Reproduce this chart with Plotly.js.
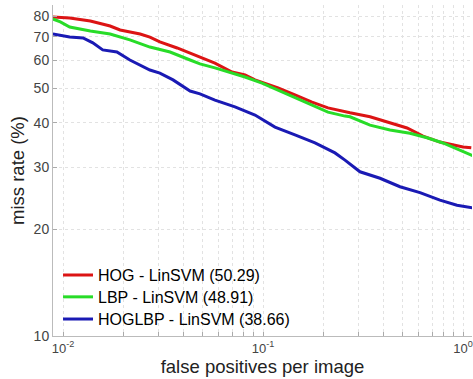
<!DOCTYPE html>
<html><head><meta charset="utf-8">
<script src="https://cdn.plot.ly/plotly-3.0.1.min.js"></script>
<style>html,body{margin:0;padding:0;background:#fff}#chart{width:473px;height:379px}</style>
</head><body><div id="chart"></div>
<script>
const seriesNames = ["HOG - LinSVM (50.29)", "LBP - LinSVM (48.91)", "HOGLBP - LinSVM (38.66)"];
const seriesColors = ["#dc1414", "#28dc28", "#1a1ab4"];

const hogX = [0.0089,0.0108,0.0137,0.0172,0.0193,0.0243,0.0272,0.0305,0.0372,0.0457,0.0575,0.070,0.0813,0.0912,0.1023,0.1189,0.1445,0.1758,0.2113,0.257,0.2723,0.3428,0.417,0.525,0.631,0.767,1.0,1.1];
const hogY = [79.6,79.1,77.6,75.1,73.2,71.3,69.9,67.7,65.1,62.2,59.0,55.7,54.6,52.9,51.8,50.2,48.0,45.8,44.1,42.9,42.7,41.6,40.2,38.7,36.7,35.3,34.2,34.0];

const lbpX = [0.0089,0.0097,0.0108,0.0137,0.0172,0.0216,0.0272,0.0343,0.0432,0.0484,0.0575,0.070,0.0813,0.0989,0.1189,0.1445,0.1758,0.2113,0.257,0.2723,0.3428,0.4315,0.543,0.661,0.794,1.0,1.12];
const lbpY = [78.6,77.1,74.6,72.7,71.3,68.6,65.5,63.4,60.2,58.7,57.2,55.3,53.9,51.8,49.5,47.3,44.9,42.9,41.8,41.6,39.4,38.2,37.4,36.3,35.1,33.3,32.3];

const hoglbpX = [0.0089,0.0108,0.0126,0.0141,0.0158,0.0186,0.0216,0.0272,0.0305,0.0355,0.0432,0.0484,0.0575,0.0724,0.0912,0.1148,0.1445,0.182,0.229,0.257,0.3055,0.3846,0.4842,0.6095,0.767,0.933,1.12];
const hoglbpY = [71.3,69.9,69.5,67.3,64.3,63.4,60.2,56.4,55.3,52.9,49.2,48.3,46.4,44.4,42.1,38.9,37.0,35.1,32.9,31.4,29.1,27.9,26.4,25.4,24.2,23.4,23.0];

const xTickVals = [0.01,0.02,0.03,0.04,0.05,0.06,0.07,0.08,0.09,0.1,0.2,0.3,0.4,0.5,0.6,0.7,0.8,0.9,1];
const xTickText = ["10<sup>-2</sup>","","","","","","","","","10<sup>-1</sup>","","","","","","","","","10<sup>0</sup>"];
const yTickVals = [10,20,30,40,50,60,70,80];
const yTickText = ["10","20","30","40","50","60","70","80"];

const xs = [hogX, lbpX, hoglbpX];
const ys = [hogY, lbpY, hoglbpY];
const legendIds = ['legend', 'legend2', 'legend3'];
const traces = seriesNames.map((n,i)=>({
  x: xs[i], y: ys[i], name: n, type: 'scatter', mode: 'lines',
  legend: legendIds[i],
  line: {color: seriesColors[i], width: 3}
}));

function leg(y) {
  return {x: 0.012, y: y, xanchor: 'left', yanchor: 'middle',
    font: {size: 16, color: '#000'}, bgcolor: 'rgba(255,255,255,0)', borderwidth: 0, itemwidth: 30};
}

const layout = {
  width: 473, height: 379,
  margin: {l: 53, r: 1, t: 5, b: 43},
  paper_bgcolor: '#fff', plot_bgcolor: '#fff',
  font: {family: 'Liberation Sans, Arial, sans-serif', color: '#333'},
  showlegend: true,
  legend: leg(0.184),
  legend2: leg(0.118),
  legend3: leg(0.051),
  xaxis: {
    type: 'log', range: [-2.05, 0.045],
    tickmode: 'array', tickvals: xTickVals, ticktext: xTickText,
    tickfont: {size: 13, color: '#444'}, ticks: 'inside', ticklen: 4, tickcolor: '#aaa',
    showgrid: true, gridcolor: '#e2e2e2', griddash: 'dot', gridwidth: 1,
    showline: true, linecolor: '#bbb', linewidth: 1, zeroline: false,
    title: {text: 'false positives per image', font: {size: 18.5, color: '#222'}, standoff: 4}
  },
  yaxis: {
    type: 'log', range: [1, 1.935],
    tickmode: 'array', tickvals: yTickVals, ticktext: yTickText,
    tickfont: {size: 14, color: '#444'}, ticks: 'inside', ticklen: 4, tickcolor: '#aaa',
    showgrid: true, gridcolor: '#e2e2e2', griddash: 'dot', gridwidth: 1,
    showline: true, linecolor: '#bbb', linewidth: 1, zeroline: false,
    title: {text: 'miss rate (%)', font: {size: 18.5, color: '#222'}, standoff: 4}
  }
};
Plotly.newPlot('chart', traces, layout, {displayModeBar: false, staticPlot: true});
</script></body></html>
